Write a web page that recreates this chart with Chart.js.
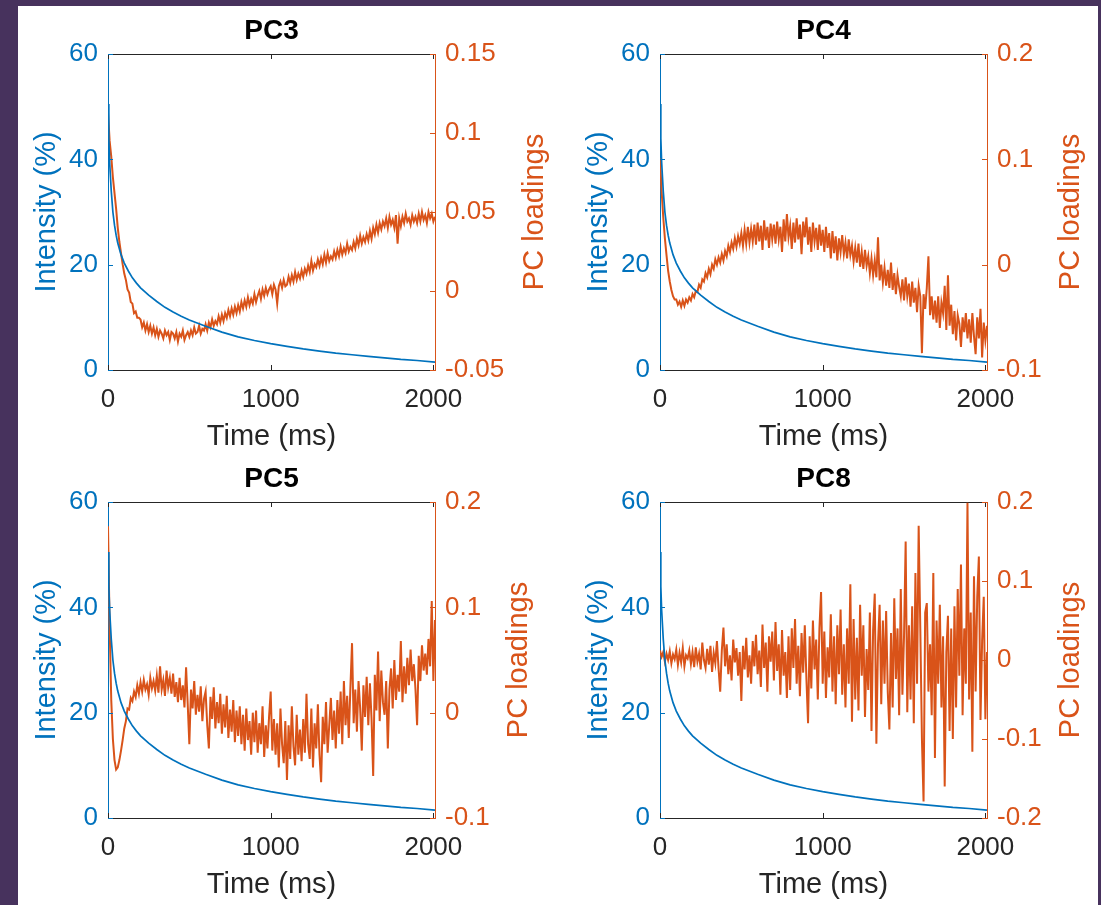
<!DOCTYPE html>
<html>
<head>
<meta charset="utf-8">
<title>PC loadings vs intensity</title>
<script src="https://cdn.jsdelivr.net/npm/chart.js@4.4.0/dist/chart.umd.min.js"></script>
<style>
  html, body { margin: 0; padding: 0; }
  body { width: 1101px; height: 905px; background: #47325d; position: relative; overflow: hidden; }
  #panel { position: absolute; left: 18px; top: 6px; width: 1080px; height: 899px; background: #ffffff; }
  canvas { position: absolute; }
</style>
</head>
<body>
<div id="panel"></div>
<canvas id="pc3" width="563" height="455" style="left:-10px; top:0px;"></canvas>
<canvas id="pc4" width="563" height="455" style="left:542px; top:0px;"></canvas>
<canvas id="pc5" width="563" height="455" style="left:-10px; top:448px;"></canvas>
<canvas id="pc8" width="563" height="455" style="left:542px; top:448px;"></canvas>
<script>
// ---- data ----
const timeTicks = [0, 1000, 2000];
const intensityTicks = [0, 20, 40, 60];
const X_MAX = 2010;

// intensity decay (%), shared by all four panels
const blueT = [0, 5, 10, 20, 30, 40, 50, 60, 80, 100, 125, 150, 175, 200, 250, 300, 350, 400, 450, 500,
  600, 700, 800, 900, 1000, 1100, 1200, 1300, 1400, 1500, 1600, 1700, 1800, 1900, 2010];
const blueI = [50.5, 44, 39.5, 34, 30, 27.5, 25.6, 24.1, 21.9, 20.3, 18.8, 17.5, 16.5, 15.6, 14.2, 13.0, 11.9, 11.0, 10.2, 9.5,
  8.3, 7.2, 6.3, 5.6, 5.0, 4.5, 4.0, 3.6, 3.2, 2.9, 2.6, 2.3, 2.0, 1.8, 1.5];

// PC loadings, sampled every 10 ms from 0 ms
const LOAD_DT = 10;
const pc3Load = [
  0.113, 0.095, 0.085, 0.072, 0.062, 0.052, 0.040, 0.031, 0.024, 0.017,
  0.011, 0.007, 0.001, -0.001, -0.007, -0.008, -0.014, -0.013, -0.017, -0.017,
  -0.018, -0.023, -0.020, -0.025, -0.021, -0.026, -0.022, -0.027, -0.023, -0.028,
  -0.024, -0.029, -0.025, -0.027, -0.030, -0.025, -0.028, -0.026, -0.031, -0.026,
  -0.027, -0.030, -0.026, -0.032, -0.027, -0.029, -0.025, -0.031, -0.028, -0.026,
  -0.029, -0.025, -0.028, -0.023, -0.027, -0.026, -0.022, -0.027, -0.024, -0.025,
  -0.021, -0.025, -0.020, -0.023, -0.018, -0.022, -0.019, -0.021, -0.016, -0.020,
  -0.015, -0.019, -0.014, -0.017, -0.012, -0.016, -0.011, -0.015, -0.010, -0.014,
  -0.009, -0.013, -0.007, -0.011, -0.006, -0.010, -0.004, -0.009, -0.005, -0.008,
  -0.002, -0.007, -0.003, 0.000, -0.005, 0.001, -0.003, 0.002, -0.002, 0.001,
  0.003, -0.002, 0.004, 0.001, -0.008, 0.003, 0.006, 0.002, 0.007, 0.003,
  0.004, 0.009, 0.005, 0.010, 0.006, 0.012, 0.007, 0.011, 0.008, 0.013,
  0.009, 0.014, 0.011, 0.016, 0.012, 0.019, 0.013, 0.017, 0.015, 0.020,
  0.016, 0.021, 0.017, 0.023, 0.018, 0.024, 0.019, 0.022, 0.020, 0.025,
  0.021, 0.026, 0.022, 0.028, 0.023, 0.027, 0.024, 0.030, 0.025, 0.028,
  0.026, 0.031, 0.027, 0.033, 0.029, 0.035, 0.030, 0.034, 0.031, 0.036,
  0.032, 0.038, 0.033, 0.040, 0.036, 0.042, 0.037, 0.043, 0.039, 0.044,
  0.041, 0.046, 0.040, 0.047, 0.042, 0.045, 0.040, 0.048, 0.030, 0.046,
  0.041, 0.047, 0.043, 0.049, 0.044, 0.046, 0.042, 0.048, 0.044, 0.047,
  0.043, 0.049, 0.044, 0.050, 0.045, 0.048, 0.043, 0.050, 0.046, 0.049,
  0.044, 0.047
];
const pc4Load = [
  0.101, 0.070, 0.045, 0.025, 0.009, -0.006, -0.016, -0.024, -0.030, -0.033,
  -0.033, -0.038, -0.035, -0.040, -0.034, -0.039, -0.033, -0.036, -0.031, -0.034,
  -0.028, -0.031, -0.025, -0.026, -0.019, -0.022, -0.014, -0.016, -0.008, -0.012,
  -0.004, -0.009, 0.000, -0.004, 0.005, 0.000, 0.007, 0.002, 0.010, 0.004,
  0.013, 0.008, 0.018, 0.012, 0.021, 0.015, 0.025, 0.017, 0.027, 0.020,
  0.030, 0.018, 0.033, 0.020, 0.036, 0.021, 0.034, 0.022, 0.038, 0.019,
  0.040, 0.022, 0.037, 0.014, 0.042, 0.023, 0.036, 0.016, 0.039, 0.024,
  0.038, 0.020, 0.041, 0.024, 0.036, 0.012, 0.043, 0.022, 0.048, 0.026,
  0.037, 0.015, 0.040, 0.021, 0.044, 0.024, 0.038, 0.010, 0.041, 0.026,
  0.045, 0.019, 0.036, 0.012, 0.040, 0.022, 0.035, 0.014, 0.038, 0.018,
  0.033, 0.012, 0.036, 0.016, 0.030, 0.006, 0.032, 0.011, 0.027, 0.004,
  0.025, 0.012, 0.028, 0.010, 0.021, 0.006, 0.024, 0.009, 0.018, 0.003,
  0.016, 0.002, 0.020, -0.002, 0.012, -0.004, 0.014, -0.001, 0.008, -0.008,
  0.006, -0.010, 0.004, -0.012, 0.026, -0.015, 0.000, -0.017, -0.003, -0.020,
  -0.005, -0.022, 0.002, -0.024, -0.008, -0.028, -0.010, -0.021, -0.030, -0.014,
  -0.034, -0.012, -0.030, -0.018, -0.040, -0.016, -0.036, -0.022, -0.045, -0.020,
  -0.030, -0.084, -0.028, -0.042, -0.022, 0.008, -0.048, -0.030, -0.052, -0.034,
  -0.055, -0.030, -0.060, -0.036, -0.046, -0.020, -0.062, -0.010, -0.058, -0.038,
  -0.066, -0.044, -0.072, -0.048, -0.056, -0.078, -0.050, -0.064, -0.046, -0.070,
  -0.052, -0.074, -0.046, -0.068, -0.085, -0.050, -0.070, -0.042, -0.088, -0.055,
  -0.072, -0.058
];
const pc5Load = [
  0.177, 0.082, 0.012, -0.025, -0.045, -0.054, -0.052, -0.045, -0.036, -0.026,
  -0.015, -0.008, 0.004, 0.003, 0.014, 0.011, 0.020, 0.015, 0.026, 0.018,
  0.029, 0.020, 0.031, 0.022, 0.027, 0.017, 0.033, 0.023, 0.030, 0.021,
  0.035, 0.019, 0.044, 0.022, 0.031, 0.016, 0.040, 0.024, 0.033, 0.018,
  0.037, 0.015, 0.029, 0.010, 0.033, 0.012, 0.026, 0.005, 0.043, 0.008,
  -0.030, 0.022, 0.004, 0.030, -0.002, 0.017, 0.001, 0.025, -0.008, 0.013,
  0.020, -0.012, -0.034, 0.015, -0.006, 0.024, -0.015, 0.010, -0.010, 0.018,
  -0.020, 0.008, -0.014, 0.016, -0.024, 0.003, -0.018, 0.012, -0.028, 0.002,
  -0.022, 0.006, -0.030, -0.002, -0.036, 0.004, -0.026, -0.008, -0.040, 0.000,
  -0.028, 0.002, -0.038, -0.010, -0.030, 0.006, -0.042, -0.012, -0.034, -0.004,
  0.020, -0.036, -0.006, -0.040, -0.010, -0.052, 0.004, -0.030, -0.048, -0.008,
  -0.064, -0.012, -0.044, 0.006, -0.032, -0.050, -0.002, -0.040, -0.016, -0.046,
  -0.006, -0.038, 0.018, -0.030, -0.044, 0.004, -0.052, -0.010, -0.034, 0.008,
  -0.040, -0.066, -0.004, -0.030, 0.010, -0.038, -0.012, 0.014, -0.026, 0.002,
  -0.034, 0.012, -0.020, 0.020, -0.030, 0.030, -0.012, 0.016, -0.024, 0.024,
  0.066, -0.010, 0.022, -0.018, 0.030, 0.004, -0.036, 0.026, -0.004, 0.034,
  -0.012, 0.028, -0.006, -0.060, 0.036, 0.002, 0.058, -0.008, 0.040, 0.010,
  -0.002, 0.030, -0.034, 0.022, 0.042, 0.004, 0.050, 0.012, 0.036, 0.020,
  0.068, 0.010, 0.044, 0.018, 0.052, 0.026, 0.060, 0.030, 0.046, 0.022,
  -0.012, 0.054, 0.030, 0.064, 0.040, 0.056, 0.036, 0.070, 0.044, 0.106,
  0.030, 0.088
];
const pc8Load = [
  0.012, 0.004, 0.010, -0.002, 0.008, 0.000, 0.011, -0.004, 0.007, 0.001,
  0.013, -0.006, 0.009, -0.003, 0.015, -0.008, 0.006, 0.002, 0.012, -0.005,
  0.010, -0.009, 0.016, -0.002, 0.008, -0.012, 0.022, 0.000, -0.010, 0.014,
  -0.006, 0.018, -0.015, 0.009, -0.004, 0.024, -0.011, -0.040, 0.012, 0.041,
  -0.008, 0.020, -0.018, 0.006, -0.026, 0.026, -0.003, 0.015, -0.020, 0.010,
  -0.052, 0.018, -0.012, 0.028, -0.022, 0.006, -0.030, 0.024, -0.008, 0.032,
  -0.018, 0.012, -0.034, 0.045, -0.010, 0.022, -0.040, 0.030, -0.002, 0.036,
  -0.026, 0.048, -0.014, 0.020, -0.044, 0.038, -0.020, 0.010, -0.048, 0.030,
  -0.038, 0.040, -0.010, 0.052, -0.030, 0.018, -0.046, 0.034, -0.016, 0.044,
  -0.024, -0.080, 0.030, -0.036, 0.050, -0.012, 0.026, -0.050, 0.040, 0.086,
  -0.030, 0.036, -0.048, 0.016, -0.022, 0.058, -0.040, 0.030, -0.056, 0.044,
  -0.018, 0.064, -0.044, 0.020, -0.060, 0.040, -0.030, 0.096, -0.078, 0.052,
  -0.050, 0.028, -0.064, 0.070, -0.020, 0.044, -0.072, 0.014, -0.038, 0.060,
  -0.090, 0.038, 0.084, -0.106, 0.020, 0.070, -0.056, 0.050, -0.030, 0.062,
  -0.040, -0.088, 0.034, -0.060, 0.078, -0.024, 0.040, -0.070, 0.090, -0.044,
  0.030, 0.150, -0.066, 0.044, -0.050, 0.068, -0.080, 0.110, -0.030, 0.170,
  0.040, -0.100, -0.179, 0.060, 0.072, -0.040, 0.020, -0.070, 0.110, -0.124,
  0.050, -0.030, 0.070, -0.060, 0.030, -0.160, 0.010, 0.056, -0.090, 0.040,
  -0.100, 0.068, -0.060, 0.090, -0.020, 0.121, -0.070, 0.040, -0.030, 0.199,
  -0.050, 0.060, -0.116, 0.106, -0.040, 0.080, 0.131, -0.076, 0.024, 0.080,
  -0.075, 0.010
];

const pc3Ticks = [-0.05, 0, 0.05, 0.1, 0.15];
const pc4Ticks = [-0.1, 0, 0.1, 0.2];
const pc5Ticks = [-0.1, 0, 0.1, 0.2];
const pc8Ticks = [-0.2, -0.1, 0, 0.1, 0.2];

// ---- style ----
const BLUE = '#0072BD';
const ORANGE = '#D95319';
const INK = '#262626';
const FONT = '"Liberation Sans", Arial, Helvetica, sans-serif';
Chart.defaults.font.family = FONT;

// inward tick marks (MATLAB style) + right axis label reading bottom-to-top
const matlabAxes = {
  id: 'matlabAxes',
  afterDraw(chart, args, opts) {
    const { ctx, chartArea: a, scales } = chart;
    const len = 5;
    const seg = (x1, y1, x2, y2) => { ctx.beginPath(); ctx.moveTo(x1, y1); ctx.lineTo(x2, y2); ctx.stroke(); };
    ctx.save();
    ctx.lineWidth = 1;
    ctx.strokeStyle = INK;
    scales.x.ticks.forEach(t => {
      const px = Math.round(scales.x.getPixelForValue(t.value)) + 0.5;
      seg(px, a.bottom, px, a.bottom - len);
      seg(px, a.top, px, a.top + len);
    });
    ctx.strokeStyle = BLUE;
    scales.y.ticks.forEach(t => {
      const py = Math.round(scales.y.getPixelForValue(t.value)) + 0.5;
      seg(a.left, py, a.left + len, py);
    });
    ctx.strokeStyle = ORANGE;
    scales.y2.ticks.forEach(t => {
      const py = Math.round(scales.y2.getPixelForValue(t.value)) + 0.5;
      seg(a.right, py, a.right - len, py);
    });
    // right axis title
    ctx.translate(a.right + opts.rightOffset, (a.top + a.bottom) / 2);
    ctx.rotate(-Math.PI / 2);
    ctx.font = '29px ' + FONT;
    ctx.fillStyle = ORANGE;
    ctx.textAlign = 'center';
    ctx.textBaseline = 'middle';
    ctx.fillText(opts.rightTitle, 0, 0);
    ctx.restore();
  }
};

const fmt = v => String(Number(v.toFixed(3)));

function makePanel(id, title, load, yMin, yMax, yTicks, rightOffset) {
  const blueData = blueT.map((t, i) => ({ x: t, y: blueI[i] }));
  const loadData = load.map((v, i) => ({ x: i * LOAD_DT, y: v }));

  new Chart(document.getElementById(id), {
    type: 'line',
    data: {
      datasets: [
        { data: blueData, xAxisID: 'x', yAxisID: 'y', borderColor: BLUE, borderWidth: 1.7, pointRadius: 0, tension: 0 },
        { data: loadData, xAxisID: 'x', yAxisID: 'y2', borderColor: ORANGE, borderWidth: 2, pointRadius: 0, tension: 0 }
      ]
    },
    options: {
      responsive: false,
      animation: false,
      devicePixelRatio: 1,
      layout: { padding: 0 },
      plugins: {
        legend: { display: false },
        tooltip: { enabled: false },
        title: {
          display: true, text: title, color: '#000000',
          font: { size: 28, weight: 'bold' },
          padding: { top: 14.2, bottom: 6.2 }
        },
        matlabAxes: { rightTitle: 'PC loadings', rightOffset: rightOffset }
      },
      scales: {
        x: {
          type: 'linear', position: 'bottom', min: 0, max: X_MAX,
          afterBuildTicks: s => { s.ticks = timeTicks.map(v => ({ value: v })); },
          afterFit: s => { s.height = 85; },
          grid: { display: false, drawTicks: false },
          border: { display: true, color: INK, width: 1 },
          ticks: { color: INK, font: { size: 26 }, padding: 14.5, maxRotation: 0, autoSkip: false, callback: v => String(v) },
          title: { display: true, text: 'Time (ms)', color: INK, font: { size: 29 }, padding: { top: 0, bottom: 0.5 } }
        },
        xTop: {
          type: 'linear', position: 'top', min: 0, max: X_MAX,
          afterFit: s => { s.height = 0; },
          grid: { display: false, drawTicks: false },
          border: { display: true, color: INK, width: 1 },
          ticks: { display: false }
        },
        y: {
          type: 'linear', position: 'left', min: 0, max: 60,
          afterBuildTicks: s => { s.ticks = intensityTicks.map(v => ({ value: v })); },
          afterFit: s => { s.width = 118; },
          grid: { display: false, drawTicks: false },
          border: { display: true, color: BLUE, width: 1 },
          ticks: { color: BLUE, font: { size: 26 }, padding: 10, callback: v => String(v) },
          title: { display: true, text: 'Intensity (%)', color: BLUE, font: { size: 29 }, padding: { top: 39.1, bottom: 0 } }
        },
        y2: {
          type: 'linear', position: 'right', min: yMin, max: yMax,
          afterBuildTicks: s => { s.ticks = yTicks.map(v => ({ value: v })); },
          afterFit: s => { s.width = 118; },
          grid: { display: false, drawTicks: false },
          border: { display: true, color: ORANGE, width: 1 },
          ticks: { color: ORANGE, font: { size: 26 }, padding: 10, callback: fmt }
        }
      }
    },
    plugins: [matlabAxes]
  });
}

makePanel('pc3', 'PC3', pc3Load, -0.05, 0.15, pc3Ticks, 99.5);
makePanel('pc4', 'PC4', pc4Load, -0.1, 0.2, pc4Ticks, 83.5);
makePanel('pc5', 'PC5', pc5Load, -0.1, 0.2, pc5Ticks, 83.5);
makePanel('pc8', 'PC8', pc8Load, -0.2, 0.2, pc8Ticks, 83.5);
</script>
</body>
</html>
